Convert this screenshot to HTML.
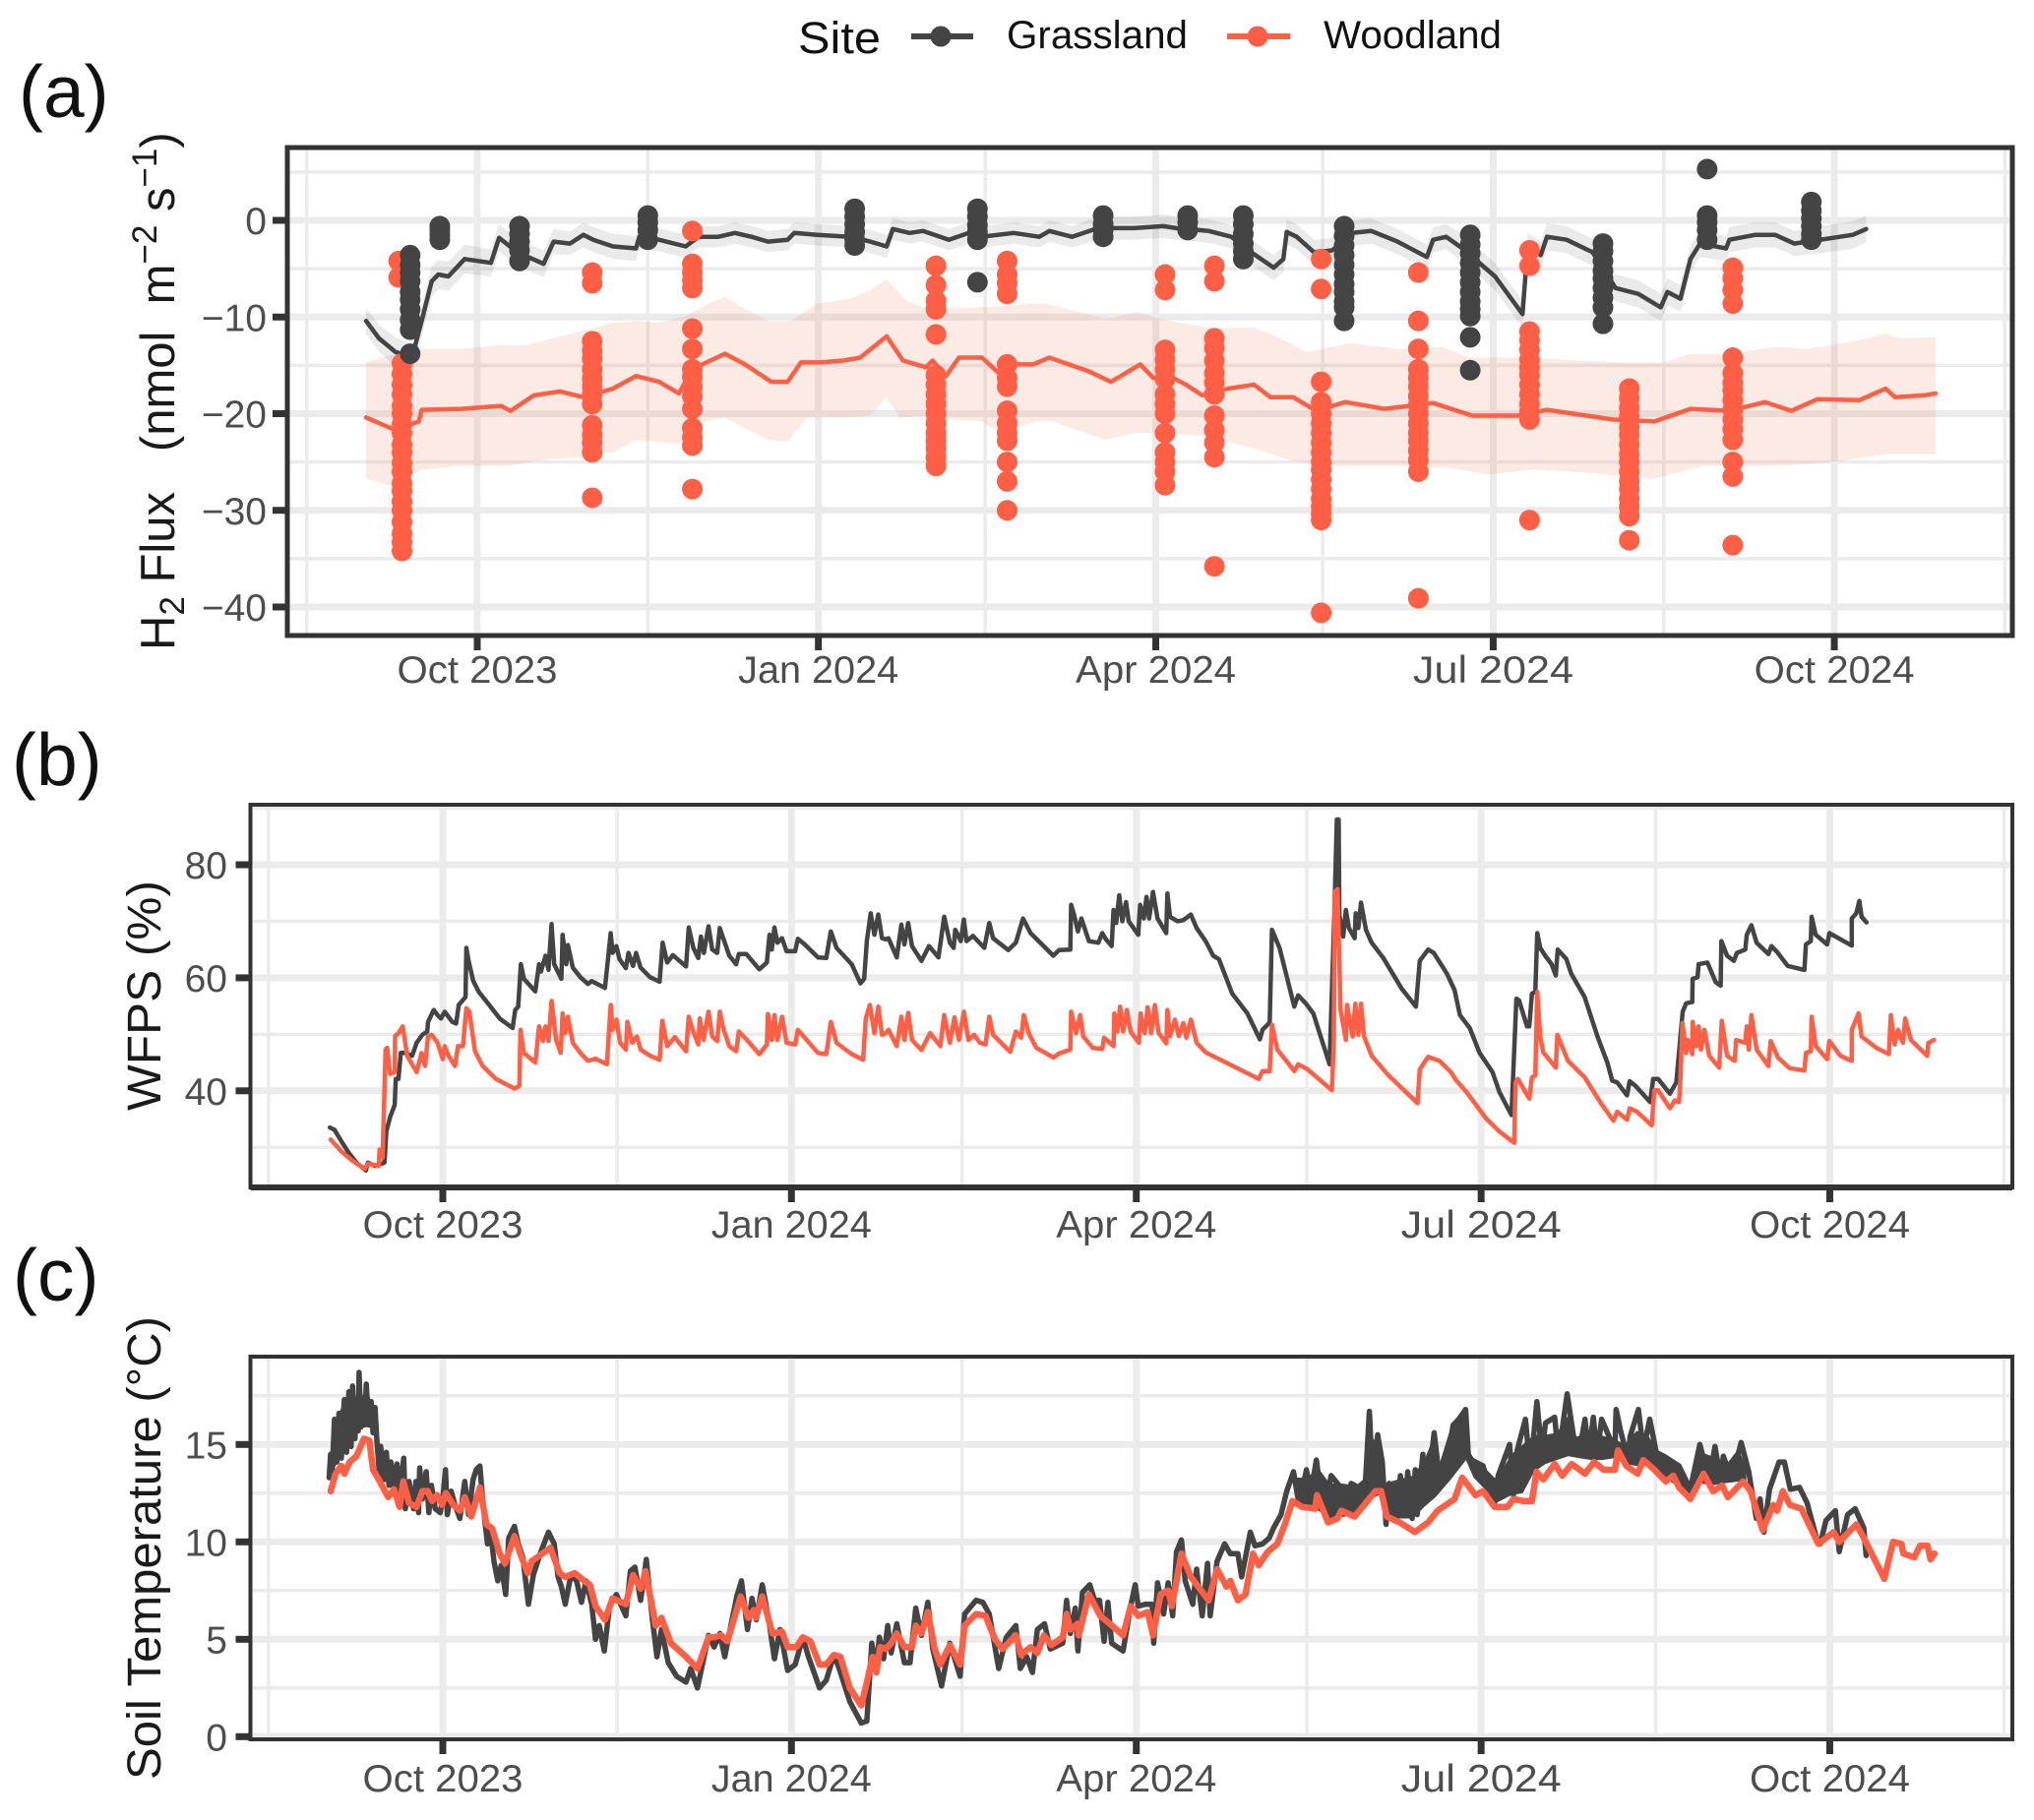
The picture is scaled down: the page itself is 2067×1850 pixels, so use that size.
<!DOCTYPE html>
<html>
<head>
<meta charset="utf-8">
<title>H2 flux, WFPS and soil temperature</title>
<style>
html,body{margin:0;padding:0;background:#fff;}
svg{display:block;font-family:"Liberation Sans",Arial,sans-serif;}
text{white-space:pre;}
</style>
</head>
<body>
<svg id="chart" xmlns="http://www.w3.org/2000/svg" width="2067" height="1850" viewBox="0 0 2067 1850">
<rect x="0" y="0" width="2067" height="1850" fill="#fff"/>
<g id="layer"></g>
<text x="19" y="119" font-size="75" fill="#111">(a)</text>
<text x="12" y="798" font-size="75" fill="#111">(b)</text>
<text x="13" y="1322" font-size="75" fill="#111">(c)</text>
<text transform="translate(177,661) rotate(-90)" font-size="49" fill="#1a1a1a"><tspan>H</tspan><tspan dy="10" font-size="35">2</tspan><tspan dy="-10"> Flux   (nmol  m</tspan><tspan dy="-18" font-size="35">−2</tspan><tspan dy="18"> s</tspan><tspan dy="-18" font-size="35">−1</tspan><tspan dy="18">)</tspan></text>
<text transform="translate(163,1129) rotate(-90)" font-size="48" fill="#1a1a1a" textLength="234" lengthAdjust="spacingAndGlyphs">WFPS (%)</text>
<text transform="translate(163,1809) rotate(-90)" font-size="48.5" fill="#1a1a1a" textLength="471" lengthAdjust="spacingAndGlyphs">Soil Temperature (°C)</text>
<g>
<text x="811" y="54" font-size="45" fill="#111" textLength="84" lengthAdjust="spacingAndGlyphs">Site</text>
<line x1="926" x2="989" y1="37" y2="37" stroke="#444" stroke-width="6"/>
<circle cx="956" cy="37" r="10.5" fill="#444"/>
<text x="1023" y="49" font-size="40" fill="#111" textLength="184" lengthAdjust="spacingAndGlyphs">Grassland</text>
<line x1="1247" x2="1311" y1="37" y2="37" stroke="#FF5F45" stroke-width="6"/>
<circle cx="1278" cy="37" r="10.5" fill="#FF5F45"/>
<text x="1345" y="49" font-size="40" fill="#111" textLength="181" lengthAdjust="spacingAndGlyphs">Woodland</text>
</g>
</svg>
<script>
// Shared time axis: days since 1 Oct 2023
const dateTickDays=[0,92,183,274,366];
const dateTickLabels=['Oct 2023','Jan 2024','Apr 2024','Jul 2024','Oct 2024'];
const dateMinorDays=[-46,46,137,228,320,412];

// Y-axis breaks
const fluxTicks=[0,-10,-20,-30,-40];
const fluxMinor=[5,-5,-15,-25,-35];
const wfpsTicks=[40,60,80];
const wfpsMinor=[30,50,70,90];
const tempTicks=[0,5,10,15];
const tempMinor=[2.5,7.5,12.5,17.5];

// Panel a: [day, mean, half-width of band]
const fluxGrass=[[-30,-10.4,1.3],[-26.5,-12.2,1.4],[-22.1,-13.6,1.5],[-17.6,-14.2,1.5],[-15,-10.4,1.6],[-12.3,-6.3,1.6],[-10.5,-5.6,1.5],[-7.8,-5.8,1.5],[-3.4,-4,1.5],[3.7,-4.4,1.4],[5.9,-1.8,1.4],[10.8,-3.3,1.4],[17.9,-4.5,1.4],[20.6,-2.2,1.3],[25,-2.4,1.2],[28.6,-1.5,1.3],[31.3,-2,1.3],[36.6,-2.7,1.3],[42.8,-2.9,1.3],[43.7,-1.7,1.2],[49,-2,1.2],[56.2,-2.7,1.2],[59.7,-1.7,1.1],[65,-1.7,1.1],[69.5,-1.3,1.1],[74,-1.7,1.1],[78.4,-2.2,1.1],[83.7,-2,1.1],[85.5,-1.3,1.1],[91.7,-1.5,1.1],[100.6,-1.7,1.1],[106,-2.2,1.2],[110.4,-2.7,1.2],[112.1,-0.9,1.1],[116.6,-1.3,1.1],[120.2,-1.1,1.1],[127.2,-2,1.1],[132.6,-1.3,1.1],[136.1,-1.7,1.1],[144.6,-1.3,1.1],[151.6,-1.7,1.1],[154.3,-1.1,1.1],[160.4,-1.7,1.1],[167.4,-0.8,1.2],[177.1,-0.8,1.2],[185,-0.6,1.2],[188.5,-0.8,1.2],[197.3,-1.1,1.2],[203.4,-1.7,1.2],[208.7,-3.3,1.3],[214.8,-4.9,1.3],[217.4,-4,1.3],[218.3,-1.2,1.3],[221,-1.7,1.3],[225.7,-3.3,1.3],[230.6,-3.1,1.3],[235.9,-1.3,1.3],[241.1,-1.1,1.3],[248.2,-2.2,1.3],[256.1,-3.8,1.3],[257.8,-2,1.3],[261.3,-1.7,1.3],[265.7,-2.9,1.4],[274.5,-5.8,1.4],[281.9,-9.7,1.4],[283.3,-2.7,1.4],[286.8,-3.6,1.4],[288.5,-1.7,1.4],[293.8,-2,1.4],[300.8,-3.3,1.4],[307,-7,1.4],[313.1,-7.6,1.4],[319.2,-9,1.4],[321,-7.4,1.4],[324.5,-8.1,1.4],[327.2,-4,1.4],[329.8,-2.4,1.4],[336.8,-2.9,1.3],[337.7,-2,1.3],[344.7,-1.5,1.3],[350,-1.5,1.3],[355.2,-2.4,1.3],[362.3,-2,1.4],[371,-1.5,1.4],[374.6,-0.9,1.4]];
const fluxWood=[[-30,-20.4],[-22.1,-21.7],[-15.8,-20.8],[-15,-19.6],[-4.3,-19.5],[6.4,-19.2],[9,-19.7],[15.3,-18.1],[22.4,-17.7],[28.6,-18.3],[36.6,-17.4],[42.8,-16.1],[49,-16.7],[54.4,-17.9],[57.9,-15.4],[66.8,-13.8],[72.2,-14.9],[79.3,-16.7],[83.7,-16.7],[87.3,-14.7],[92.6,-14.7],[98.8,-14.5],[103.3,-14.2],[110.4,-12],[114.8,-14.5],[121,-15.2],[122.8,-14.5],[126.4,-16.1],[129.9,-14.2],[136.1,-14.2],[141.5,-16.1],[144.6,-14.9],[149.9,-14.9],[154.3,-14.2],[159.5,-14.9],[164.8,-15.6],[170.9,-16.7],[178.8,-14.9],[182.3,-16.3],[186.7,-16.1],[191.1,-17],[195.5,-18.1],[202.5,-17.4],[209.5,-17],[213.9,-18.3],[220.1,-18.3],[226.2,-19.7],[234.1,-18.8],[244.6,-19.5],[257.8,-18.9],[268.3,-20.2],[280.6,-20.2],[288.5,-19.6],[306.1,-20.6],[317.5,-20.8],[327.2,-19.5],[337.7,-19.7],[347.3,-18.8],[354.4,-19.7],[361.4,-18.5],[372.8,-18.6],[379.8,-17.4],[382.4,-18.3],[390.3,-18.1],[393.3,-17.9]];
const fluxWoodUpper=[[-30,-14.7],[-22.1,-13.8],[-15,-13.3],[-4.3,-13.3],[6.4,-12.9],[13.5,-12.9],[22.4,-12],[27.7,-11.5],[36.6,-10.6],[42.8,-10.4],[49,-10.6],[56.2,-9.9],[62.4,-8.6],[66.8,-7.9],[72.2,-9.2],[78.4,-10.4],[84.6,-10.4],[91.7,-8.6],[100.6,-8.1],[106,-7.2],[110.4,-6.1],[115.7,-8.3],[121.9,-9.2],[129,-9],[137.9,-9],[150,-8.6],[153.4,-8.6],[162.2,-9.5],[169.2,-10.2],[178,-9.5],[186.7,-10.4],[197.3,-11.1],[209.5,-11.1],[216.6,-12.2],[223.6,-13.6],[235.9,-12.7],[248.2,-13.3],[260.4,-13.1],[267.5,-14.2],[283.3,-14.2],[297.3,-14.5],[307.8,-14.7],[320.1,-14.7],[327.2,-13.8],[337.7,-13.8],[350,-13.1],[358.7,-13.3],[372.8,-12.4],[379.8,-11.7],[383.3,-12.2],[393.3,-12.1]];
const fluxWoodLower=[[-30,-26.7],[-23.8,-27.4],[-15,-25.8],[-4.3,-25.4],[8.2,-25.4],[18.8,-24.7],[27.7,-24.5],[36.6,-24],[42.8,-22.7],[54.4,-23.1],[57.9,-21.1],[66.8,-20.4],[72.2,-21.5],[78.4,-22.7],[83.7,-22.9],[89,-20.4],[100.6,-20.4],[106,-20.2],[110.4,-18.3],[113.9,-20.4],[121.9,-20.2],[129,-20.6],[136.1,-20.8],[141.5,-22.2],[150,-20.8],[155.1,-20.8],[169.2,-22.7],[178,-22],[186.7,-22],[197.3,-22.4],[209.5,-23.6],[220.1,-24.9],[232.4,-25.4],[248.2,-25.4],[262.2,-25.6],[272.7,-26.3],[285,-25.8],[299,-26.1],[316.6,-26.8],[330.7,-25.4],[350,-25.4],[358.7,-25.2],[367.5,-24.9],[379.8,-24.2],[393.3,-24.2]];

// Panel a: chamber flux samples, one sub-array per campaign
const woodSampleDays=[-21.2,-20.3,31,58,123.7,142.9,185.5,198.8,227.6,253.8,283.8,310.7,338.6];
const woodSamples=[
[-4.2,-5.9],
[-14.8,-15.9,-17,-18,-19.2,-20,-21.1,-22,-23.2,-24,-25.1,-26,-27.2,-28,-29.1,-30,-31.2,-32.4,-33.3,-34.2],
[-5.4,-6.5,-12.5,-13.5,-14.3,-15.4,-16.4,-17.2,-18,-19,-21.2,-22.2,-23,-24,-28.7],
[-1.1,-4.5,-5.4,-6.2,-7,-11.2,-13.3,-15.4,-16.2,-17.2,-18.2,-19.5,-21.5,-22.5,-23.3,-27.8],
[-4.7,-6.7,-8.3,-9.2,-11.8,-16,-17,-18,-19,-20,-21,-22,-22.8,-23.6,-24.5,-25.4],
[-4.2,-5.6,-6.5,-7.6,-14.9,-16.3,-17.2,-19.7,-21,-22,-22.8,-25,-27,-30],
[-5.6,-7.2,-13.4,-14.4,-15.4,-16.4,-18,-19,-20,-22,-24,-25,-26,-27.4],
[-4.7,-6.3,-12.2,-13.2,-14.5,-15.8,-16.8,-18,-20.2,-21.7,-23,-24.5,-35.8],
[-4,-7.1,-16.7,-18.8,-20,-21,-22,-23,-24,-25,-25.8,-26.8,-27.8,-28.8,-29.6,-30.3,-31,-40.6],
[-5.4,-10.4,-13.3,-15.4,-16.3,-17.2,-18.2,-19.1,-20,-21,-22,-22.8,-23.8,-24.8,-26,-39.1],
[-3.1,-4.7,-11.5,-12.4,-13.4,-14.4,-15.2,-16,-17,-18,-19,-19.8,-20.6,-31],
[-17.4,-18.4,-19.4,-20.3,-21.4,-22.2,-23.2,-24.2,-25,-26,-27,-27.8,-28.8,-29.6,-30.6,-33.1],
[-4.9,-6,-7.2,-8.6,-14.2,-15.8,-16.8,-17.6,-18.6,-19.6,-20.6,-21.6,-22.7,-25,-26.5,-33.6]
];
const grassSampleDays=[-18.1,-10.1,11.4,46,101.8,134.9,168.8,191.6,206.6,233.8,267.8,303.6,331.7,359.8];
const grassSamples=[
[-3.6,-4.6,-5.4,-6.3,-7.4,-8.2,-9.2,-10.3,-11.3,-13.8],
[-0.6,-1,-1.5,-2],
[-0.6,-1.4,-2.2,-3.1,-4.2],
[0.5,-0.2,-1,-2],
[1.2,0.4,-0.4,-1.2,-2,-2.6],
[1.2,0.4,-0.5,-1.2,-2,-6.4],
[0.5,-0.4,-1,-1.7],
[0.5,-0.2,-1],
[0.5,-0.4,-1.4,-2.4,-3.2,-4],
[-0.6,-1.6,-2.6,-3.6,-4.6,-5.6,-6.6,-7.4,-8.4,-9,-10.4],
[-1.5,-2.5,-3.4,-4.4,-5.4,-6.4,-7.4,-8.4,-9.2,-9.9,-12.1,-15.5],
[-2.4,-3.2,-4.2,-5.2,-6,-7,-8,-9,-10.7],
[5.3,0.5,-0.2,-1,-2],
[1.9,1,0.2,-0.6,-1.4,-2]
];

// Panel b: [day, WFPS %]
const wfpsGrass=[[-29.8,33.5],[-28.6,33.1],[-26.8,31.1],[-24.8,29],[-22.8,27.3],[-20.3,25.9],[-19.8,27.3],[-17.9,26.7],[-15.4,27.3],[-14.9,32.8],[-13.9,35.4],[-12.7,37.5],[-12.4,42.1],[-11.7,42.1],[-11.1,46.7],[-9.9,46.7],[-8.1,46.2],[-6.9,48.5],[-5.4,49.9],[-4.1,50.5],[-3.9,52.2],[-2.4,54.3],[-1.4,53.4],[-0.5,52.8],[0.5,54],[2.5,52.2],[3.5,51.9],[4.2,55.2],[6,56.6],[6.2,65.3],[6.8,63],[8,59.5],[9.5,57.5],[12,55.4],[15,52.8],[18.4,51.1],[19.1,54.3],[19.9,54.9],[20.6,62.4],[21.4,59.8],[24.4,57.6],[25.4,62.4],[25.9,61.1],[27.1,63.9],[27.9,61.4],[28.7,69.5],[29.4,62.4],[30.4,61],[31.3,59.8],[31.6,67.6],[32.6,62.4],[33,65.8],[34.3,61.8],[36.3,60.1],[38.3,58.9],[39.3,59.4],[42.8,58.2],[44.3,67.9],[44.8,64.4],[45.8,65.6],[46.6,63.3],[48.3,61.7],[49,64.4],[50.2,62.1],[51,64.4],[52.2,61.8],[54.7,60.1],[57.2,59.3],[58,66.2],[59.2,62.7],[60.7,64],[64.2,62],[64.9,68.9],[66.1,65.3],[67.4,63.5],[68.1,67.3],[68.9,64.4],[70.1,69.1],[71.1,65],[72.4,64.4],[73.1,68.8],[74.1,66.8],[75.6,63.9],[77.4,62.4],[78.1,64.2],[80.1,64.2],[83.5,61.5],[85.5,62.7],[86.2,67.6],[86.8,65],[87.5,68.9],[88.3,66.2],[89.5,67],[90.7,64.7],[93,64.7],[93.7,66.9],[95.5,65.9],[99,63.6],[101.2,63.5],[102.4,68.2],[103.9,65.3],[107.9,62.4],[110.2,59],[111.2,59.8],[111.9,66.5],[112.9,71.4],[113.9,67.6],[114.9,71.2],[115.9,67],[116.9,66.8],[117.6,67],[119.8,63.6],[121,69.4],[121.8,65.9],[122.8,69.7],[123.8,65.6],[126.3,63],[128.3,65.6],[130.8,63.6],[132.3,70.8],[133.8,66.2],[134.8,65.3],[135.2,68.5],[136.7,66.5],[137.5,70.3],[138.2,66.5],[139.9,67.4],[142.9,65.3],[144.2,69.7],[145.2,67],[149.2,64.9],[151.2,66.2],[153.1,70.5],[155.1,67.9],[161.1,63.9],[162.6,64.9],[165.6,65],[165.8,72.9],[166.6,71.1],[167.6,68.2],[168.5,70.5],[170.5,66.5],[173,66.2],[174,67.9],[175,66.8],[176.5,65.6],[177,72],[177.7,69.7],[178.5,74.6],[179.3,70],[180.3,73.4],[181,70],[183.5,67.6],[184,72.9],[185,70.5],[185.7,74.3],[186.4,70.5],[187.4,75.2],[188.6,70.5],[190.9,67.9],[191.2,74.9],[191.9,70.8],[193.9,70],[195.4,70.2],[197.4,71.2],[198.9,68.8],[201.3,66.5],[203.3,63.9],[204.8,63.3],[208.3,57.2],[212.3,53.7],[215.6,49.1],[216.3,50.8],[218.2,52.1],[218.8,68.5],[220.8,65.3],[224.7,54.9],[225.7,56.9],[227.7,55.5],[229.7,53.7],[234,44.7],[235.2,70],[235.9,88],[236.4,88],[236.6,71.1],[237.6,67.3],[238.3,72],[239.1,68.8],[240.6,67],[240.9,71.4],[241.6,68.8],[242.3,73.3],[243.6,68.5],[245.1,66.2],[248.1,63.6],[253,58.1],[256.8,54.9],[257.8,63],[260,65],[261.5,64.4],[265,60.7],[267,57.8],[268.4,53.4],[271,51.1],[273.6,46.7],[277,43.3],[278.8,39.8],[282,35.7],[283.3,56.3],[284,56],[286.1,51.4],[286.7,51.4],[287.4,57.2],[288.3,57.5],[288.8,67.9],[289.6,65.3],[290.9,63.9],[292.6,62.4],[293.7,60.4],[294.2,65],[296.5,63.3],[297.8,60.7],[301.3,56.6],[304.7,49.6],[307.3,45],[308.6,41.8],[309.9,41.5],[312.5,39.2],[313.2,41.7],[314.7,40.9],[318.6,38],[319.4,42.1],[320.7,42.1],[323.8,39.5],[325.5,41.5],[327.2,54],[328.1,55.5],[329.7,55.7],[329.8,59.8],[331.1,60.1],[331.4,62.4],[333.7,62.7],[335.9,59.2],[337.2,58.6],[337.4,66.5],[338.9,63.9],[340.7,63],[341.5,64.4],[343.7,65],[344.1,67.6],[345.3,69.3],[346.7,66.2],[349.8,64.2],[350.6,65.6],[352.3,64.4],[354.9,62.1],[359.3,61.4],[359.7,65.9],[361,66.5],[361.2,70.8],[362.3,67.6],[365.3,65.9],[365.9,67.9],[371.8,65.7],[371.8,70.5],[373,71.4],[373.8,73.6],[374.4,70.8],[375.7,69.8]];
const wfpsWood=[[-29.6,31.4],[-26.8,29.3],[-23.8,27.6],[-20.6,26.2],[-19.8,27.1],[-16.9,26.7],[-16.7,29.6],[-15.9,28.2],[-15.1,47.3],[-14.7,47.6],[-13.9,43],[-12.7,43.3],[-12.6,49.7],[-11.7,50.2],[-10.6,51.4],[-9.4,46.2],[-6.9,43.3],[-5.6,46.7],[-4.7,44.4],[-3.9,49.7],[-2.9,49.9],[-1.4,48.5],[0,45.6],[0.5,47.9],[1.5,46.2],[3.2,44.4],[4,47.9],[5.3,47.9],[6.2,54.6],[7,54],[8.5,47],[10.5,44.4],[14,42.1],[18.9,40.4],[20.2,40.9],[20.5,50.8],[21.4,46.7],[24.4,45],[25.4,51.4],[26.4,48.8],[27.1,51.4],[27.9,48.8],[28.7,55.9],[29.9,49],[31.1,46.7],[31.6,53.7],[32.3,50.2],[33,53.1],[34.3,48.5],[36.3,46.7],[38.3,45.3],[40.3,45.7],[43.3,44.7],[44.3,55.2],[44.8,50.8],[45.8,52.6],[46.8,48.5],[48.3,47.3],[48.7,52.2],[50,48.5],[51.2,49.6],[52.2,47.3],[54.7,46.2],[57.2,45.5],[57.9,52.4],[59.2,47.9],[61.2,49.5],[64.2,47],[64.9,53.1],[65.9,50.8],[67.4,48.2],[67.8,52.8],[68.8,49],[70.1,54],[71.1,49.6],[72.4,48.8],[73.1,54],[74.1,50.8],[75.6,47.9],[77.4,47],[78.1,50.5],[80.1,49.1],[83.5,46.5],[85.5,48.2],[85.8,53.6],[86.8,49],[87.5,53.4],[88.3,49],[89.5,53.1],[90.7,48.5],[93,48.2],[93.7,50.8],[95.5,49.4],[99,46.7],[101.2,46.5],[102.4,52.2],[103.9,48.5],[107.9,46.5],[110.9,45.5],[111.6,52.8],[112.7,55.2],[113.9,50.2],[114.9,54.9],[115.9,49.9],[116.9,50.2],[117.6,50.8],[119.8,47.9],[121,53.1],[121.8,49],[122.8,53.8],[123.8,49],[126.3,47.2],[128.6,50.2],[131.3,47.9],[132.3,53.4],[133.8,48.5],[135,53],[136.2,49],[137.5,54],[138.7,49],[140.2,49.9],[141.7,48.5],[143.2,48.2],[144.2,53.1],[145.2,49.9],[149.7,46.9],[151.2,50.5],[152.6,49.4],[153.3,53.4],[154.6,50.2],[156.6,47.6],[161.1,45.9],[162.6,46.6],[165.6,47.3],[165.8,54],[167.1,50.2],[168.2,53.4],[169,49.6],[171.5,47.6],[174,47.4],[174.5,49.4],[177,47.9],[177.2,53.7],[178,50.5],[178.7,54.9],[179.5,50.5],[180.5,54.3],[181.5,50.5],[183.7,48.5],[184.1,53.7],[185.2,50.2],[186,54.8],[186.9,50.2],[187.9,55.2],[188.9,50.2],[190.9,48.4],[191.2,54.3],[191.9,49.7],[193.2,52.6],[194.2,49.7],[195.4,52],[196.2,49.4],[197.4,52.6],[198.9,48.5],[201.3,46.8],[215.3,42.1],[216.3,43.5],[218.2,43.5],[218.8,51.7],[220.2,47.3],[224.7,43.5],[225.7,44.7],[228.2,43.8],[234.6,40.1],[235.1,47.9],[235.4,75.2],[236.1,75.7],[236.9,54.3],[238.3,49],[238.6,55.2],[240.1,49.6],[240.8,55.4],[241.6,49.9],[242.3,55.4],[243.1,49.6],[245.1,46.2],[249.6,42.7],[257.2,37.8],[257.8,43.8],[260,46],[263,45.3],[266,43.3],[267.5,41.8],[270.1,39.8],[275.3,35.1],[278.8,32.8],[282.7,30.8],[283.1,41.5],[283.7,42.1],[286.7,38.6],[287.4,42.4],[288.3,42.7],[288.8,57.5],[289.6,49.6],[290.4,46.8],[293.7,44.1],[294.1,49.9],[296.9,45.3],[301.3,42.4],[305.6,37.8],[308.9,34.7],[309.9,36.3],[312.5,34.9],[313.2,36.9],[315.1,36.3],[319,33.9],[319.7,40.1],[320.7,40.1],[323.8,36.9],[325.1,38.3],[326.2,38],[326.6,42.1],[327.1,52],[328.1,46.7],[328.5,49],[329.7,46.5],[329.8,52.2],[330.7,47.9],[331.4,51.4],[332,47.3],[332.9,50.8],[334.2,46.2],[336.8,44.1],[337.5,52.4],[338.9,46.2],[340.9,45.3],[341.3,49],[343.7,48.5],[344.1,51.4],[344.6,47.3],[345.3,53.4],[346.7,47.3],[349.8,44.4],[350.4,48.8],[352.3,45.9],[355.4,44],[359.3,43.6],[359.7,46.7],[361,47],[361.2,53.1],[362.3,47.9],[365.3,45.6],[365.9,48.8],[368.8,46.2],[371.8,45.3],[371.8,50.8],[373.6,53.7],[374.4,49.6],[378.3,47.6],[381.6,46.5],[382.1,53.4],[383.1,48.2],[384,50.8],[385.3,48.5],[385.9,52.8],[387.4,49],[391.7,46.2],[392,48.5],[393.5,49]];

// Panel c: [day, soil temperature °C]
const tempGrass=[[-30,13.3],[-29.6,14.5],[-29.2,13.6],[-28.6,16.3],[-28,14.1],[-27.4,16.6],[-26.8,14.3],[-26,17.3],[-25.4,14.6],[-24.8,17.7],[-24.2,14.9],[-23.8,18],[-23.2,15.3],[-22.6,17.3],[-22.3,15.7],[-22.1,18.7],[-21.6,15.9],[-21,17.4],[-20.6,16],[-20.2,18.1],[-19.6,16],[-18.9,17.2],[-18.4,15.6],[-17.9,16.9],[-17.4,15.2],[-16.7,13.4],[-16.4,14.9],[-15.4,13.2],[-14.9,14.6],[-14.2,12.9],[-13.7,14.1],[-12.9,12.7],[-12.1,14],[-11.4,12.5],[-10.3,14.3],[-9.9,11.7],[-8.9,13.1],[-7.7,11.7],[-7.1,13.1],[-6.4,11.5],[-6.1,13.8],[-5.4,12.2],[-4.4,13.6],[-3.7,11.5],[-3,12.9],[-2,11.7],[-0.7,11.5],[0,12.2],[0.7,13.7],[1.2,11.4],[2.2,12.6],[3.2,11.9],[4.5,11.2],[5.8,13.1],[6.8,11.4],[8,13.2],[8.8,13.7],[9.8,13.9],[10.5,12.2],[11.2,10.9],[11.8,9.9],[12.5,10.7],[13.5,9],[14.5,8],[15.4,8.8],[16.6,7.3],[17.4,10.2],[18.9,10.8],[19.9,9.9],[21.1,9.2],[22.6,6.8],[23.9,8.3],[25.9,9.5],[27.9,10.5],[29.4,9.9],[30.4,8.2],[31.3,7.7],[32.3,6.8],[33.8,8.3],[35.3,8],[36.6,6.9],[37.8,8],[39.3,6.8],[40.3,5],[41.3,5.7],[42.6,4.4],[44,6.7],[45.8,7.3],[48.3,6.2],[49.5,8.5],[50.7,8.7],[52.2,7],[53.7,9.1],[55.2,6.2],[56.5,4.1],[57.7,5.5],[59.5,3.8],[61.7,3.1],[64.2,2.8],[65.4,3.5],[67.2,2.5],[68.6,3.8],[70.1,5.2],[71.6,4.6],[73.1,5.3],[74.4,4.1],[76.1,5.8],[77.6,7.2],[78.8,8],[80.4,5.5],[81.6,7.1],[82.7,6],[84.3,7.8],[86,6],[87.5,4],[89,5.5],[91,3.4],[93,3.7],[95,5.1],[96.5,4.1],[99.4,2.5],[101.2,2.9],[103.2,4.2],[104.6,3.5],[107.4,1.8],[110.4,0.7],[111.9,0.8],[113.2,4.8],[114.4,3.5],[115.2,5.1],[116.3,4],[117.4,5.7],[118.3,4.3],[119.8,5.8],[121.8,3.8],[123.3,3.8],[124.8,6.6],[126.3,5.2],[128,6.9],[129.3,4.5],[131.6,2.6],[133.8,4.8],[136.5,3.1],[137.7,6.3],[140.7,7],[142.5,6.9],[144.2,6.3],[146.7,3.5],[148.7,5.1],[151.2,5.7],[152.4,3.5],[154.1,4.1],[155.6,3.3],[156.9,5.5],[158.8,5.8],[160.3,4.5],[163.6,4.8],[164.6,7],[165.6,5.3],[166.9,6.6],[167.6,4.4],[168.8,7.4],[170.7,7.8],[172,7],[173.3,7],[174.5,4.9],[175.5,6.9],[176.5,4.8],[179.5,4.4],[181.5,6.7],[182.7,7.8],[183.5,6.7],[185.4,6.8],[187.2,6.8],[187.6,4.8],[188.6,7.9],[190.2,6.3],[191.4,7.9],[192.6,6.2],[193.6,9.5],[194.9,10.1],[195.9,8],[197.9,6.8],[198.9,8.6],[200.4,6.2],[201.8,8.9],[202.5,6.2],[204.3,9],[206.3,9.9],[207.8,9.4],[209.8,9.4],[210.8,8.2],[213.1,10.5],[214.3,9.8],[216.3,9.9],[218.1,10.2],[219.2,10.7],[221.2,11.4],[222.7,12.6],[224.5,13.6],[225.6,12.3],[227,12.85],[227.9,13.7],[229,12.4],[230.5,14.2],[231.8,12.3],[233,12],[234.4,13.4],[236.5,12.9],[238,11.9],[239.7,13],[241.6,12.8],[243.2,12.2],[244.5,16.7],[245.4,13.1],[246.7,15.5],[247.9,14.1],[248.9,10.9],[249.7,13],[251.7,11.4],[252.7,13.4],[253.9,11.4],[254.6,13.6],[255.8,11.2],[256.6,13.7],[257.1,11.4],[258.6,14.5],[259.6,12.2],[261.6,15.6],[263.1,13.1],[265.1,14.2],[266.6,16],[268.1,16.3],[269.9,16.8],[270.6,14.5],[271.5,14.2],[274.5,13.9],[277.5,12],[278.5,13.4],[281.5,15],[282.5,12.4],[283.5,14.7],[285.7,16.3],[287,13.6],[288.7,17.2],[290,14.6],[291,16.1],[293.4,16.4],[294.4,14.4],[296.7,17.6],[298.4,15.4],[299.9,14.6],[301.4,16.3],[302.4,14.5],[303.6,16.4],[304.6,14.4],[305.8,16.3],[309.3,14.7],[309.6,16.8],[310.8,15.7],[312.8,14.2],[313.3,15.4],[315.5,16.8],[316.8,14.7],[318.5,16.3],[320.2,14.6],[322.2,14.4],[326.2,13.9],[329.2,12.7],[331.7,15],[334.2,13.2],[335.7,14.9],[337.2,13.2],[337.9,14.4],[340.1,13.2],[342.6,15.1],[344.6,13.6],[346.6,11.2],[347.6,12.2],[348.6,10.5],[350.1,12.7],[352.6,14.1],[354,14.1],[355.6,12.7],[358,12.8],[360,12],[362.5,10.2],[363.5,9.9],[365,11.1],[367.5,11.6],[368.5,9.5],[370.7,11.4],[372.7,11.7],[375,10.7],[375.6,9.3]];
const tempWood=[[-29.6,12.6],[-28.3,13.5],[-26.8,13.9],[-26,13.5],[-24.6,14.1],[-22.8,14.4],[-20.8,15.3],[-19.4,15.2],[-18.4,13.7],[-16.9,13.2],[-14.4,12.3],[-12.9,12.7],[-11.4,11.8],[-10.4,13.1],[-8.9,12],[-6.9,11.8],[-5.4,12.6],[-4,12.6],[-2.8,12.1],[-1.5,12.4],[-0.2,11.9],[0.8,12.5],[2.8,11.9],[4.5,11.6],[5.8,12.3],[7.5,11.3],[9.8,12.8],[11.5,10.9],[13,10.7],[15,9.4],[16.4,8.9],[18.9,10.3],[20.4,9.4],[22.4,8.4],[23.4,9],[28.4,9.7],[30.8,8.4],[32.3,8.2],[34.8,8.4],[37.3,8],[38.8,7.8],[40.3,6.7],[42.8,6],[44.8,7.1],[48.3,6.8],[50.2,8.3],[52.2,7.6],[53.5,8.5],[56.2,5.7],[57.7,6.1],[60.2,4.8],[64.2,4.1],[67.2,3.5],[70.1,5.1],[71.6,5.1],[73.4,5.2],[75.1,4.9],[78.6,7.2],[80.6,6.1],[82.1,6.5],[82.6,6.1],[84.3,7.2],[87,5.3],[89.5,5.4],[91,4.6],[93.3,4.6],[95,5.1],[97,4.9],[99.4,3.7],[101.2,3.7],[103.2,4.2],[104.9,4.1],[107.4,2.5],[110.4,1.6],[111.9,2.8],[113.4,4.1],[114.4,3.3],[115.4,4.6],[116.9,4.5],[118.3,4.8],[119.8,5.3],[121.8,4.6],[123.8,4.6],[124.8,5.7],[126.3,5.3],[128,6.4],[129.8,4.5],[131.3,3.7],[133.8,4.7],[136.5,3.7],[137.7,5.7],[140.7,6.3],[143.2,6.2],[145.7,5],[147.7,4.5],[151.2,5.2],[152.6,4.2],[155.1,4.6],[156.9,4.3],[158.6,5.2],[160.6,4.7],[163.6,5.1],[164.6,6.3],[165.6,5.5],[167.6,5.8],[167.8,5.2],[170.5,7.3],[173.5,6.2],[176,5.8],[179.5,5.2],[181.5,6.7],[183.5,6.2],[186,6.4],[187.4,5.2],[189.4,7.3],[191.4,7.5],[192.4,6.7],[194.9,9.4],[197.4,8.2],[200.9,7.3],[202.1,7],[204.3,8.6],[206.8,7.7],[207.8,8],[209.8,7],[211.8,7.3],[213.8,9.4],[215.3,8.8],[217.7,9.5],[220.2,9.9],[222.2,10.9],[224.2,12.1],[226.7,11.8],[230.2,11.7],[230.7,12.4],[233.6,11],[236.1,11.2],[237.1,11.6],[240.6,11.3],[246.1,12.6],[247.6,12.6],[249.1,11.3],[252.5,11],[256.5,10.5],[260,11],[262.5,11.6],[267,12.2],[269,13.3],[272.5,12.4],[274.5,12.6],[277.5,11.8],[281,11.8],[282.5,12.2],[285,12.1],[287.4,12.1],[288.6,13.6],[290.4,13.2],[293.4,14],[295.4,13.4],[297.9,14],[301.4,13.5],[303.8,14.1],[306.3,13.7],[309.3,13.7],[310.1,14.7],[312.3,13.9],[315.3,13.5],[316.8,14.2],[319.7,13.7],[322.7,13.1],[324.7,13.4],[326.2,12.8],[329.2,12.2],[332.7,13.5],[335.2,12.6],[337.6,12.9],[339.1,12.3],[343.1,13.1],[345.1,12.6],[348.3,10.6],[351.1,11.9],[352.1,11.6],[353.6,12.6],[355.5,11.9],[358.5,11.7],[363,9.9],[367,10.5],[368.5,10],[373,10.9],[375,10.2],[380.4,8.1],[382.7,10],[384.9,9.9],[385.4,9.4],[388.3,9.2],[389.8,9.8],[391.8,9.8],[392.6,9.1],[393.6,9.4]];

// Panel c: grassland daily temperature range in the two densely oscillating periods
const tempGrassEarlyMax=[[-29.5,14.5],[-28.6,16.3],[-27.4,16.6],[-26,17.3],[-24.8,17.7],[-23.8,17.9],[-22.6,17.3],[-22.1,18.5],[-21,17.4],[-20.2,18],[-18.9,17.2],[-17.9,16.9],[-17,15.5]];
const tempGrassEarlyMin=[[-29.5,13.5],[-28.6,13.8],[-27.4,14.2],[-26,14.5],[-24.8,14.8],[-23.8,15],[-22.6,15.7],[-22.1,15.9],[-21,16],[-20.2,16],[-18.9,15.8],[-17.9,15.3],[-17,14.5]];
const tempGrassSummerMax=[[225,13.3],[228,13.3],[231,13.8],[234,13],[237,13],[241,12.9],[243.5,13.3],[244.5,15.5],[247,15],[248.5,13],[252,13.2],[256,13.4],[259,14.2],[261.5,15.4],[263,14],[266,15.9],[268,16.3],[270,16.6],[271,14.5],[275,13.8],[278,13.2],[282,14.5],[285,15],[288,15.5],[291,15.5],[294,15.6],[297,16.5],[299,15.4],[303,15.6],[309,15.3],[312,15],[315,15.7],[318,15.5],[321,14.5],[326,13.9],[329,13],[332,14.6],[335,14.4],[338,13.8],[342,14.8],[344,13.7]];
const tempGrassSummerMin=[[225,12.1],[228,11.8],[231,11.6],[234,11.2],[238,11.3],[241,11.4],[244,12.1],[247,12.4],[248.5,11.2],[252,11.2],[256,11.2],[259,11.8],[262,12.3],[266,13.2],[270,14.2],[272,13.3],[275,12.7],[278,12],[282,12.4],[285,12.5],[288,13.6],[291,14],[294,14.2],[297,14.4],[300,14.3],[303,14.2],[306,14.2],[309,14.3],[312,14],[315,13.9],[318,13.9],[322,13.4],[326,12.8],[329,12.2],[332,13],[335,12.9],[338,13],[342,13.1],[344,13]];

const GRASS='#444444', WOOD='#FF5F45', GRID='#EBEBEB', FRAME='#333333', TICKTXT='#4D4D4D';
const NS='http://www.w3.org/2000/svg';
const layer=document.getElementById('layer');

function mk(tag,attrs,parent){
  const e=document.createElementNS(NS,tag);
  for(const k in attrs){e.setAttribute(k,attrs[k]);}
  (parent||layer).appendChild(e);
  return e;
}

// Axis functions
const xA=d=>485+3.768*d;
const yA=v=>224-9.825*v;
const xB=d=>450+3.851*d;
const yB=v=>1108.8-5.745*(v-40);
const xC=d=>450+3.851*d;
const yC=v=>1765.3-19.8*v;

function pts(data,x,y){return data.map(p=>x(p[0]).toFixed(1)+','+y(p[1]).toFixed(1)).join(' ');}

function drawFrame(id,box,x,y,yTicks,yMinor,gridMajor,gridMinor){
  const g=mk('g',{});
  
  
  yMinor.forEach(v=>{
    const el=mk('line',{x1:box.l,x2:box.r,y1:y(v),y2:y(v),stroke:GRID,'stroke-width':gridMinor},g);
    
    
  });
  dateMinorDays.forEach(d=>{
    const el=mk('line',{x1:x(d),x2:x(d),y1:box.t,y2:box.b,stroke:GRID,'stroke-width':gridMinor},g);
    
    
  });
  yTicks.forEach(v=>{
    const el=mk('line',{x1:box.l,x2:box.r,y1:y(v),y2:y(v),stroke:GRID,'stroke-width':gridMajor},g);
    
    
  });
  dateTickDays.forEach(d=>{
    const el=mk('line',{x1:x(d),x2:x(d),y1:box.t,y2:box.b,stroke:GRID,'stroke-width':gridMajor},g);
    
    
  });
}

function drawAxes(id,box,x,y,yTicks,labelRight,xBaseline,borderW,bottomW){
  const g=mk('g',{});
  
  
  const frame=mk('rect',{x:box.l,y:box.t,width:box.r-box.l,height:box.b-box.t,fill:'none',stroke:FRAME,'stroke-width':borderW},g);
  
  
  const base=mk('line',{x1:box.l,x2:box.r,y1:box.b,y2:box.b,stroke:FRAME,'stroke-width':bottomW},g);
  
  
  yTicks.forEach(v=>{
    const t=mk('line',{x1:box.l-15,x2:box.l,y1:y(v),y2:y(v),stroke:FRAME,'stroke-width':7},g);
    
    
    const l=mk('text',{x:labelRight,y:y(v)+14,'text-anchor':'end','font-size':39,fill:TICKTXT},g);
    l.textContent=String(v).replace('-','\u2212');
    
    
  });
  dateTickDays.forEach((d,i)=>{
    const t=mk('line',{x1:x(d),x2:x(d),y1:box.b,y2:box.b+15,stroke:FRAME,'stroke-width':7},g);
    
    
    const l=mk('text',{x:x(d),y:xBaseline,'text-anchor':'middle','font-size':39,fill:TICKTXT,textLength:163,lengthAdjust:'spacingAndGlyphs'},g);
    l.textContent=dateTickLabels[i];
    
    
  });
}

function drawLine(data,x,y,color,w,name){
  const el=mk('polyline',{points:pts(data,x,y),fill:'none',stroke:color,'stroke-width':w,'stroke-linejoin':'round','stroke-linecap':'round'});
  
  
}

// Panel a
const boxA={l:292,r:2045,t:150,b:646};
drawFrame('flux',boxA,xA,yA,fluxTicks,fluxMinor,7,3.5);

const woodBand=mk('polygon',{points:pts(fluxWoodUpper,xA,yA)+' '+pts(fluxWoodLower.slice().reverse(),xA,yA),fill:'#E9895F','fill-opacity':0.17});



const grassUpper=fluxGrass.map(p=>[p[0],p[1]+p[2]]);
const grassLower=fluxGrass.map(p=>[p[0],p[1]-p[2]]).reverse();
const grassBand=mk('polygon',{points:pts(grassUpper,xA,yA)+' '+pts(grassLower,xA,yA),fill:'#444','fill-opacity':0.11});



drawLine(fluxGrass,xA,yA,GRASS,4.5,'flux-line-grassland');
drawLine(fluxWood,xA,yA,WOOD,4.5,'flux-line-woodland');

woodSampleDays.forEach((d,i)=>{
  woodSamples[i].forEach(v=>{
    const c=mk('circle',{cx:xA(d),cy:yA(v),r:10.5,fill:WOOD});
    
    
  });
});
grassSampleDays.forEach((d,i)=>{
  grassSamples[i].forEach(v=>{
    const c=mk('circle',{cx:xA(d),cy:yA(v),r:10.5,fill:GRASS});
    
    
  });
});
drawAxes('flux',boxA,xA,yA,fluxTicks,271,694,5,5);

// Panel b
const boxB={l:254.5,r:2045,t:818,b:1207};
drawFrame('wfps',boxB,xB,yB,wfpsTicks,wfpsMinor,7,3.5);
drawLine(wfpsGrass,xB,yB,GRASS,4.5,'wfps-line-grassland');
drawLine(wfpsWood,xB,yB,WOOD,4.5,'wfps-line-woodland');
drawAxes('wfps',boxB,xB,yB,wfpsTicks,231,1258,4,6);

// Panel c
const boxC={l:254.5,r:2045,t:1379,b:1768};
drawFrame('temp',boxC,xC,yC,tempTicks,tempMinor,7,3.5);
const earlyRange=mk('polygon',{points:pts(tempGrassEarlyMax,xC,yC)+' '+pts(tempGrassEarlyMin.slice().reverse(),xC,yC),fill:GRASS});


const summerRange=mk('polygon',{points:pts(tempGrassSummerMax,xC,yC)+' '+pts(tempGrassSummerMin.slice().reverse(),xC,yC),fill:GRASS});


drawLine(tempGrass,xC,yC,GRASS,5.5,'temperature-line-grassland');
drawLine(tempWood,xC,yC,WOOD,6.5,'temperature-line-woodland');
drawAxes('temp',boxC,xC,yC,tempTicks,231,1821,4,4);
</script>
</body>
</html>
